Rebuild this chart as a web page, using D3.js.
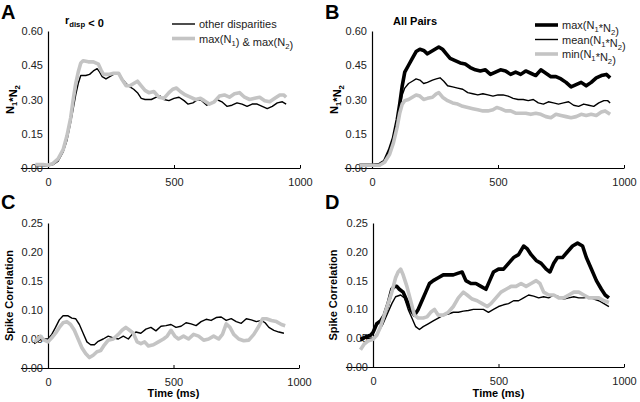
<!DOCTYPE html>
<html>
<head>
<meta charset="utf-8">
<script src="https://cdn.jsdelivr.net/npm/d3@7"></script>
<style>
  body { margin: 0; background: #fff; }
  svg { display: block; font-family: Arial, "Liberation Sans", sans-serif; }
  .tick text { font-size: 11px; fill: #222; }
  .domain { stroke: #000; stroke-width: 1.2; }
</style>
</head>
<body>
<svg id="fig" width="640" height="402"></svg>
<script>
// values, [time ms, value]
const aOther = [[-50,0.01],[-20,0.01],[0,0.01],[20,0.015],[40,0.03],[60,0.07],[75,0.12],[90,0.2],[100,0.26],[110,0.32],[120,0.37],[130,0.405],[150,0.405],[165,0.41],[180,0.425],[195,0.435],[205,0.42],[215,0.4],[230,0.39],[245,0.4],[260,0.41],[280,0.415],[295,0.39],[310,0.37],[325,0.355],[340,0.345],[355,0.33],[370,0.305],[385,0.3],[410,0.3],[430,0.31],[445,0.315],[460,0.3],[480,0.295],[500,0.305],[520,0.31],[540,0.295],[555,0.28],[575,0.285],[595,0.3],[610,0.295],[630,0.275],[650,0.285],[670,0.3],[690,0.29],[710,0.27],[730,0.275],[750,0.285],[770,0.28],[790,0.27],[810,0.28],[830,0.28],[850,0.27],[870,0.26],[890,0.27],[910,0.285],[930,0.29],[945,0.28]];
const aMax = [[-50,0.015],[-20,0.015],[0,0.012],[20,0.02],[40,0.04],[60,0.08],[75,0.14],[90,0.22],[100,0.3],[110,0.37],[120,0.42],[130,0.46],[140,0.47],[160,0.465],[180,0.465],[200,0.455],[210,0.43],[220,0.41],[240,0.41],[260,0.415],[280,0.415],[295,0.385],[310,0.36],[325,0.36],[340,0.37],[355,0.38],[370,0.36],[385,0.34],[400,0.33],[420,0.335],[440,0.31],[460,0.305],[480,0.33],[495,0.345],[510,0.35],[525,0.335],[545,0.32],[565,0.31],[585,0.3],[605,0.305],[620,0.295],[640,0.28],[660,0.29],[680,0.315],[700,0.32],[720,0.31],[740,0.325],[760,0.33],[780,0.31],[800,0.3],[820,0.305],[840,0.31],[860,0.295],[880,0.29],[900,0.305],[920,0.32],[935,0.32],[945,0.31]];

const bMax = [[-50,0.012],[0,0.012],[30,0.015],[50,0.03],[70,0.08],[85,0.13],[100,0.21],[110,0.28],[120,0.36],[130,0.42],[145,0.45],[160,0.48],[175,0.51],[190,0.52],[205,0.515],[220,0.5],[235,0.51],[250,0.52],[265,0.53],[280,0.52],[295,0.5],[310,0.48],[330,0.47],[350,0.46],[370,0.455],[390,0.44],[410,0.43],[430,0.425],[450,0.43],[470,0.41],[490,0.42],[510,0.43],[530,0.425],[550,0.41],[570,0.42],[590,0.41],[610,0.425],[630,0.415],[650,0.405],[670,0.43],[690,0.415],[710,0.4],[730,0.4],[750,0.39],[770,0.375],[790,0.355],[810,0.365],[830,0.375],[850,0.36],[870,0.375],[890,0.395],[910,0.405],[930,0.41],[945,0.395]];
const bMean = [[-50,0.012],[0,0.012],[30,0.015],[50,0.03],[70,0.07],[85,0.12],[100,0.2],[110,0.26],[120,0.32],[130,0.35],[145,0.37],[160,0.38],[175,0.39],[190,0.385],[205,0.37],[220,0.375],[240,0.385],[255,0.39],[270,0.395],[285,0.38],[300,0.36],[320,0.355],[340,0.35],[360,0.345],[380,0.33],[400,0.325],[420,0.32],[440,0.325],[460,0.32],[480,0.315],[500,0.32],[520,0.32],[540,0.315],[560,0.305],[580,0.3],[600,0.3],[620,0.295],[640,0.3],[660,0.285],[680,0.28],[700,0.29],[720,0.285],[740,0.28],[760,0.285],[780,0.29],[800,0.275],[820,0.27],[840,0.28],[860,0.275],[880,0.27],[900,0.285],[920,0.295],[935,0.295],[945,0.285]];
const bMin = [[-50,0.012],[0,0.012],[30,0.012],[50,0.025],[70,0.06],[85,0.11],[100,0.18],[110,0.24],[120,0.28],[130,0.295],[145,0.3],[160,0.31],[175,0.32],[190,0.315],[205,0.3],[220,0.305],[240,0.31],[255,0.325],[265,0.33],[280,0.31],[300,0.295],[320,0.285],[340,0.28],[360,0.27],[380,0.265],[400,0.26],[420,0.255],[440,0.25],[460,0.25],[480,0.255],[495,0.265],[510,0.26],[530,0.25],[550,0.25],[570,0.24],[590,0.24],[610,0.24],[630,0.235],[650,0.24],[670,0.235],[690,0.225],[710,0.22],[730,0.235],[750,0.23],[770,0.225],[790,0.22],[810,0.225],[830,0.235],[850,0.23],[870,0.235],[890,0.23],[910,0.245],[925,0.25],[945,0.235]];

const cOther = [[-55,0.042],[-35,0.048],[-15,0.05],[0,0.05],[15,0.058],[30,0.07],[45,0.083],[60,0.09],[80,0.09],[95,0.086],[110,0.085],[125,0.075],[140,0.06],[155,0.045],[170,0.04],[185,0.04],[200,0.046],[220,0.05],[240,0.055],[260,0.052],[280,0.05],[300,0.055],[320,0.05],[335,0.058],[350,0.062],[370,0.06],[390,0.067],[410,0.07],[430,0.064],[450,0.072],[470,0.073],[490,0.075],[510,0.07],[530,0.072],[550,0.078],[570,0.076],[590,0.073],[610,0.08],[630,0.084],[650,0.082],[670,0.087],[690,0.088],[710,0.082],[730,0.085],[750,0.08],[770,0.077],[790,0.085],[810,0.083],[830,0.08],[850,0.082],[865,0.078],[880,0.07],[900,0.065],[920,0.062],[940,0.06]];
const cMax = [[-55,0.045],[-40,0.05],[-30,0.055],[-15,0.048],[0,0.045],[15,0.052],[30,0.06],[45,0.07],[60,0.078],[75,0.08],[90,0.075],[105,0.065],[120,0.05],[135,0.035],[150,0.025],[165,0.018],[180,0.022],[195,0.028],[210,0.03],[225,0.04],[240,0.048],[260,0.05],[280,0.058],[295,0.065],[310,0.07],[325,0.065],[340,0.06],[355,0.045],[370,0.042],[385,0.045],[400,0.038],[420,0.04],[440,0.045],[460,0.05],[475,0.055],[490,0.065],[505,0.055],[520,0.05],[540,0.055],[560,0.05],[580,0.058],[600,0.055],[620,0.048],[640,0.05],[660,0.055],[680,0.05],[695,0.058],[710,0.076],[725,0.07],[740,0.058],[760,0.05],[780,0.047],[800,0.048],[820,0.058],[840,0.072],[855,0.085],[870,0.085],[890,0.082],[910,0.08],[930,0.075],[945,0.073]];

const dMax = [[-50,0.048],[-30,0.052],[-10,0.055],[0,0.06],[15,0.075],[30,0.08],[45,0.09],[60,0.11],[75,0.135],[85,0.14],[95,0.14],[105,0.135],[120,0.13],[135,0.115],[150,0.1],[165,0.09],[180,0.1],[195,0.115],[210,0.13],[225,0.145],[240,0.15],[260,0.155],[280,0.16],[300,0.16],[320,0.16],[340,0.163],[355,0.165],[370,0.15],[390,0.145],[410,0.145],[430,0.14],[450,0.135],[465,0.15],[480,0.165],[500,0.17],[520,0.17],[540,0.18],[560,0.19],[580,0.195],[600,0.21],[615,0.205],[630,0.195],[650,0.185],[670,0.18],[690,0.17],[705,0.165],[720,0.18],[735,0.19],[755,0.19],[775,0.2],[795,0.21],[815,0.215],[835,0.21],[850,0.19],[870,0.17],[890,0.15],[910,0.135],[925,0.125],[940,0.12]];
const dMean = [[-50,0.045],[-30,0.05],[0,0.05],[20,0.06],[40,0.075],[60,0.095],[75,0.11],[90,0.122],[110,0.125],[125,0.12],[140,0.1],[155,0.085],[170,0.07],[185,0.065],[200,0.07],[220,0.075],[240,0.08],[260,0.085],[280,0.09],[300,0.092],[320,0.095],[340,0.095],[360,0.097],[380,0.098],[400,0.1],[420,0.1],[440,0.1],[460,0.095],[480,0.1],[500,0.105],[520,0.108],[540,0.11],[560,0.115],[580,0.115],[600,0.12],[620,0.125],[640,0.123],[660,0.12],[680,0.122],[700,0.12],[720,0.125],[740,0.122],[760,0.118],[780,0.12],[800,0.122],[820,0.12],[840,0.12],[860,0.122],[880,0.118],[900,0.115],[920,0.11],[940,0.105]];
const dMin = [[-50,0.03],[-35,0.04],[-20,0.045],[0,0.048],[15,0.055],[30,0.07],[45,0.09],[60,0.11],[75,0.13],[90,0.155],[100,0.165],[110,0.17],[120,0.16],[135,0.14],[150,0.115],[165,0.09],[180,0.085],[200,0.085],[215,0.087],[230,0.095],[245,0.1],[260,0.09],[280,0.09],[300,0.095],[320,0.105],[340,0.12],[360,0.13],[375,0.125],[395,0.118],[415,0.115],[435,0.11],[455,0.105],[470,0.11],[490,0.12],[510,0.13],[530,0.135],[550,0.14],[570,0.14],[590,0.145],[610,0.14],[630,0.145],[650,0.15],[665,0.145],[680,0.13],[700,0.125],[720,0.125],[740,0.12],[760,0.12],[780,0.125],[800,0.13],[820,0.13],[840,0.125],[860,0.12],[880,0.12],[900,0.12],[920,0.115],[940,0.112]];

const xTicks = [0, 500, 1000];
const topTicks = [0, 0.15, 0.30, 0.45, 0.60];
const bottomTicks = [0, 0.05, 0.10, 0.15, 0.20, 0.25];

const BLACK = "#000", GREY = "#c4c4c4";
const svg = d3.select("#fig");

// draw a label with subscripts: parts = [[text, isSub], ...]
function richText(sel, parts, size) {
  parts.forEach(p => {
    sel.append("tspan")
      .attr("font-size", p[1] ? size * 0.7 : size)
      .attr("dy", p[1] ? 3 : 0)
      .text(p[0]);
    if (p[1]) sel.append("tspan").attr("dy", -3).attr("font-size", size).text("");
  });
  return sel;
}

function panel(opts) {
  const pxPerMs = (opts.x1000 - opts.x0) / 1000;
  const x = d3.scaleLinear().domain([-110, 1000]).range([opts.x0 - 110 * pxPerMs, opts.x1000]);
  const y = d3.scaleLinear().domain([0, opts.yMax]).range([opts.y0, opts.yTop]);
  const g = svg.append("g");

  g.append("g")
    .attr("transform", `translate(0,${opts.y0})`)
    .call(d3.axisBottom(x).tickValues(xTicks).tickFormat(d3.format("d"))
      .tickSizeInner(-3).tickSizeOuter(0).tickPadding(10))
    .call(s => s.selectAll(".tick line").attr("stroke", "#000"));

  g.append("g")
    .attr("transform", `translate(${x(0)},0)`)
    .call(d3.axisLeft(y).tickValues(opts.yTicks).tickFormat(d3.format(".2f")).tickSize(0).tickPadding(5))
    .call(s => s.selectAll(".tick line").remove());

  const line = d3.line().x(d => x(d[0])).y(d => y(d[1]));
  opts.series.forEach(s => {
    g.append("path")
      .datum(s.data)
      .attr("fill", "none")
      .attr("stroke", s.color)
      .attr("stroke-width", s.width)
      .attr("stroke-linejoin", "round")
      .attr("d", line);
  });

  // panel letter
  svg.append("text")
    .attr("x", opts.letterX).attr("y", opts.letterY)
    .attr("font-size", 20).attr("font-weight", "bold")
    .text(opts.letter);

  // y title
  const yt = svg.append("text")
    .attr("transform", `translate(${opts.yTitleX},${(opts.y0 + opts.yTop) / 2}) rotate(-90)`)
    .attr("text-anchor", "middle")
    .attr("font-size", 11).attr("font-weight", "bold");
  richText(yt, opts.yTitle, 11);

  if (opts.xTitle) {
    svg.append("text")
      .attr("x", (x(0) + x(1000)) / 2).attr("y", 397)
      .attr("text-anchor", "middle")
      .attr("font-size", 11).attr("font-weight", "bold")
      .text(opts.xTitle);
  }

  if (opts.legend) {
    opts.legend.forEach((l, i) => {
      const ly = opts.legendY + i * 14.5;
      svg.append("line")
        .attr("x1", opts.legendX).attr("x2", opts.legendX + 23)
        .attr("y1", ly).attr("y2", ly)
        .attr("stroke", l.color).attr("stroke-width", l.width);
      const t = svg.append("text")
        .attr("x", opts.legendX + 27).attr("y", ly + 4)
        .attr("font-size", 11).attr("fill", "#222");
      richText(t, l.label, 11);
    });
  }
  return { x, y };
}

const n1n2 = [["N", false], ["1", true], ["*N", false], ["2", true]];

panel({
  letter: "A", letterX: 1, letterY: 19,
  x0: 48, x1000: 300, y0: 168, yTop: 31, yMax: 0.6, yTicks: topTicks,
  yTitleX: 14, yTitle: n1n2,
  series: [
    { data: aOther, color: BLACK, width: 1.4 },
    { data: aMax, color: GREY, width: 3.6 }
  ],
  legendX: 172, legendY: 24,
  legend: [
    { color: BLACK, width: 1.4, label: [["other disparities", false]] },
    { color: GREY, width: 3.6, label: [["max(N", false], ["1", true], [") & max(N", false], ["2", true], [")", false]] }
  ]
});

panel({
  letter: "B", letterX: 325, letterY: 19,
  x0: 372, x1000: 624, y0: 168, yTop: 31, yMax: 0.6, yTicks: topTicks,
  yTitleX: 338, yTitle: n1n2,
  series: [
    { data: bMax, color: BLACK, width: 3.6 },
    { data: bMean, color: BLACK, width: 1.4 },
    { data: bMin, color: GREY, width: 3.6 }
  ],
  legendX: 535, legendY: 25,
  legend: [
    { color: BLACK, width: 3.6, label: [["max(N", false], ["1", true], ["*N", false], ["2", true], [")", false]] },
    { color: BLACK, width: 1.4, label: [["mean(N", false], ["1", true], ["*N", false], ["2", true], [")", false]] },
    { color: GREY, width: 3.6, label: [["min(N", false], ["1", true], ["*N", false], ["2", true], [")", false]] }
  ]
});

panel({
  letter: "C", letterX: 1, letterY: 209,
  x0: 48, x1000: 299, y0: 368, yTop: 223, yMax: 0.25, yTicks: bottomTicks,
  yTitleX: 13, yTitle: [["Spike Correlation", false]], xTitle: "Time (ms)",
  series: [
    { data: cOther, color: BLACK, width: 1.4 },
    { data: cMax, color: GREY, width: 3.6 }
  ]
});

panel({
  letter: "D", letterX: 325, letterY: 209,
  x0: 373, x1000: 624, y0: 367, yTop: 223, yMax: 0.25, yTicks: bottomTicks,
  yTitleX: 337, yTitle: [["Spike Correlation", false]], xTitle: "Time (ms)",
  series: [
    { data: dMax, color: BLACK, width: 3.6 },
    { data: dMean, color: BLACK, width: 1.4 },
    { data: dMin, color: GREY, width: 3.6 }
  ]
});

// panel A subtitle: r_disp < 0
const rt = svg.append("text").attr("x", 65).attr("y", 24).attr("font-size", 11).attr("font-weight", "bold");
richText(rt, [["r", false], ["disp", true], [" < 0", false]], 11);

svg.append("text").attr("x", 393).attr("y", 25)
  .attr("font-size", 11).attr("font-weight", "bold").text("All Pairs");
</script>
</body>
</html>
